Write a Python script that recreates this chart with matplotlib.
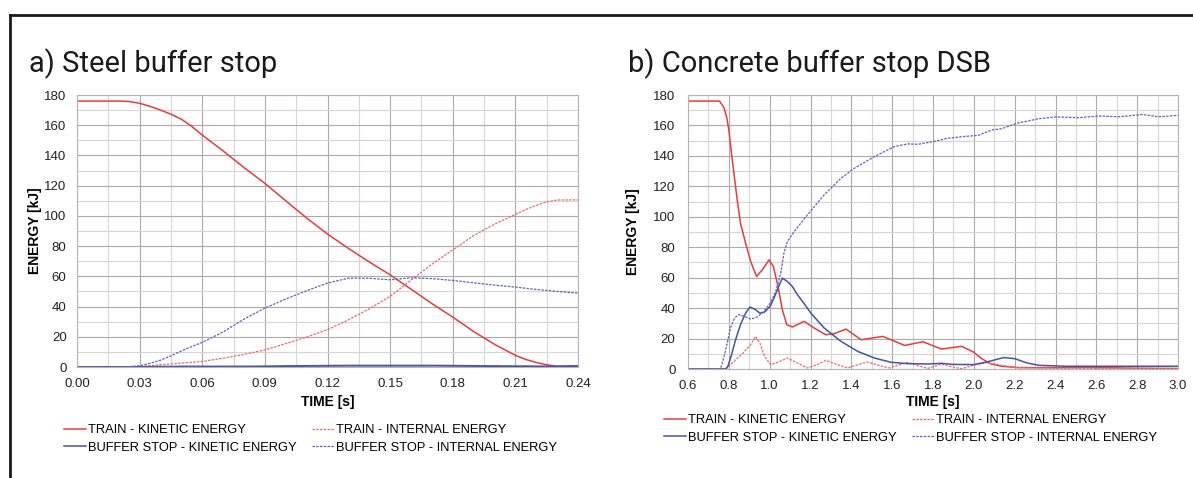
import matplotlib
matplotlib.use("Agg")
import matplotlib.pyplot as plt
from matplotlib.lines import Line2D
from matplotlib.ticker import MultipleLocator

# ---- a) steel buffer stop -------------------------------------------------
t_a = [0.0, 0.01, 0.02, 0.025, 0.03, 0.035, 0.04, 0.045, 0.05, 0.055, 0.06, 0.07, 0.08,
       0.09, 0.10, 0.11, 0.12, 0.13, 0.14, 0.15, 0.16, 0.17, 0.18, 0.19, 0.20, 0.21,
       0.215, 0.22, 0.225, 0.23, 0.24]
a_train_ke = [176, 176, 176, 175.7, 174.5, 172.5, 170, 167.3, 164, 159.2, 153.5, 143, 132,
              121.5, 110, 98.6, 88, 78.5, 69.5, 61, 51.5, 42, 33, 23.5, 15, 7.7,
              5, 3, 1.5, 0.5, 0.9]
a_train_ie = [0, 0, 0, 0.1, 0.4, 0.9, 1.5, 2.0, 2.6, 3.1, 3.7, 5.8, 8.3,
              11.3, 15.5, 19.8, 24.7, 31.2, 38.5, 46.7, 57.5, 68, 77.5, 87, 94.5, 101,
              104.2, 107, 109.3, 110.5, 110.6]
a_buffer_ke = [0, 0, 0, 0, 0, 0.1, 0.2, 0.2, 0.3, 0.3, 0.3, 0.3, 0.3,
               0.4, 0.6, 0.7, 0.8, 0.9, 0.9, 0.9, 0.9, 0.9, 0.8, 0.7, 0.6, 0.5,
               0.5, 0.4, 0.4, 0.4, 0.4]
a_buffer_ie = [0, 0, 0, 0.2, 0.9, 2.4, 4.5, 7.4, 10.6, 13.5, 16.3, 23.2, 31.7,
               39, 45, 50.5, 55.5, 58.8, 58.7, 57.7, 59, 58.5, 57.3, 55.7, 54.2, 52.9,
               52.1, 51.3, 50.7, 50, 48.9]

# ---- b) concrete buffer stop DSB ------------------------------------------
t_b_train_ke = [0.6, 0.754, 0.775, 0.789, 0.8, 0.811, 0.825, 0.841, 0.857, 0.882, 0.907,
                0.936, 0.964, 0.997, 1.018, 1.041, 1.062, 1.084, 1.111, 1.169, 1.218,
                1.275, 1.316, 1.374, 1.448, 1.554, 1.661, 1.751, 1.841, 1.94, 1.998,
                2.039, 2.08, 2.137, 2.22, 2.4, 2.6, 2.8, 3.0]
b_train_ke = [176, 176, 172, 165.8, 157, 144, 128.6, 111, 95.8, 82.7, 70.6,
              60.8, 65.2, 71.7, 67.4, 54.2, 38.9, 29.1, 27.6, 31.3, 26.9,
              22.5, 23.2, 26.2, 19.2, 21.4, 15.5, 17.9, 13.1, 14.9, 11.2,
              6.8, 3.5, 1.8, 0.9, 0.9, 1.0, 0.5, 0.3]

t_b_train_ie = [0.6, 0.784, 0.8, 0.833, 0.866, 0.907, 0.931, 0.952, 0.975, 1.005, 1.038,
                1.087, 1.136, 1.185, 1.231, 1.275, 1.333, 1.382, 1.431, 1.48, 1.533,
                1.587, 1.636, 1.677, 1.726, 1.775, 1.841, 1.89, 1.94, 2.0, 2.06,
                2.13, 2.2, 2.4, 2.7, 3.0]
b_train_ie = [0, 0, 1.7, 6.1, 10, 16, 21.4, 17, 8.3, 2.8, 4.4,
              7.2, 3.9, 0.7, 2.8, 5.7, 2.8, 0.7, 2.8, 4.6, 2.4,
              0.7, 2.8, 4.4, 2.2, 0.4, 3.3, 1.5, 0.2, 2.5, 4.2,
              2.5, 1.0, 0.5, 0.4, 0.3]

t_b_buffer_ke = [0.6, 0.784, 0.795, 0.811, 0.833, 0.857, 0.882, 0.903, 0.926, 0.952, 0.975,
                 1.002, 1.021, 1.041, 1.062, 1.087, 1.111, 1.136, 1.169, 1.202, 1.267,
                 1.349, 1.431, 1.513, 1.595, 1.677, 1.775, 1.841, 1.9, 2.0, 2.064,
                 2.145, 2.2, 2.26, 2.32, 2.45, 2.7, 3.0]
b_buffer_ke = [0, 0, 1.7, 8.3, 19.2, 29.1, 36.7, 40.7, 39.4, 36.7, 37.4,
               41.1, 46.6, 53.1, 59.7, 57.5, 54.2, 48.8, 42.9, 36.7, 26.9,
               18.2, 11.6, 7.2, 4.4, 3.5, 3.3, 3.7, 3.0, 2.9, 4.6,
               7.5, 6.8, 4.0, 2.4, 1.8, 1.8, 1.8]

t_b_buffer_ie = [0.6, 0.759, 0.775, 0.792, 0.808, 0.828, 0.849, 0.874, 0.907, 0.939, 0.972,
                 1.005, 1.03, 1.054, 1.07, 1.087, 1.12, 1.185, 1.267, 1.349, 1.415,
                 1.513, 1.611, 1.677, 1.726, 1.792, 1.841, 1.867, 1.94, 2.022, 2.088,
                 2.137, 2.211, 2.317, 2.399, 2.514, 2.612, 2.71, 2.825, 2.907, 3.0]
b_buffer_ie = [0, 0, 7.2, 17, 26.9, 33.5, 35.7, 34.6, 32.8, 34.1, 37.8,
               43.7, 51, 63, 76.1, 83.8, 90.3, 101.3, 114.4, 125.3, 131.9,
               139.5, 146.1, 147.9, 147.6, 149.2, 150.5, 151.5, 152.6, 153.5, 157,
               157.9, 161.4, 164.4, 165.6, 165.1, 166.2, 165.7, 167.2, 165.7, 166.6]

labels = ["TRAIN - KINETIC ENERGY", "TRAIN - INTERNAL ENERGY",
          "BUFFER STOP - KINETIC ENERGY", "BUFFER STOP - INTERNAL ENERGY"]

RED = "#ee3a3a"
RED_LIGHT = "#f26a6a"
BLUE = "#4453a8"
BLUE_LIGHT = "#5a66c4"
DOT = (0, (2, 1))
SANS = "Liberation Sans"

W, H = 1193, 478
fig = plt.figure(figsize=(W / 100, H / 100), dpi=100)


def px_axes(x0, x1, y0, y1):
    return fig.add_axes([x0 / W, 1 - y1 / H, (x1 - x0) / W, (y1 - y0) / H])


def style(ax, xmax_step, xminor, ypad):
    ax.set_ylim(0, 180)
    ax.yaxis.set_major_locator(MultipleLocator(20))
    ax.yaxis.set_minor_locator(MultipleLocator(10))
    ax.xaxis.set_major_locator(MultipleLocator(xmax_step))
    ax.xaxis.set_minor_locator(MultipleLocator(xminor))
    ax.grid(which="major", color="#ababab", lw=0.8)
    ax.grid(which="minor", color="#d6d6d6", lw=0.8)
    ax.set_axisbelow(True)
    for s in ax.spines.values():
        s.set_color("#b5b5b5")
        s.set_linewidth(0.8)
    ax.tick_params(which="both", length=0, labelsize=9.5, colors="#222222")
    ax.tick_params(axis="x", pad=8)
    ax.tick_params(axis="y", pad=ypad)
    for lab in ax.get_xticklabels() + ax.get_yticklabels():
        lab.set_family(SANS)
    ax.set_xlabel("TIME [s]", fontsize=10, fontweight="bold", family=SANS)
    ax.set_ylabel("ENERGY [kJ]", fontsize=10, fontweight="bold", family=SANS)
    ax.xaxis.label.set_va("center")
    ax.yaxis.label.set_va("center")


# left panel
ax1 = px_axes(77, 578, 95, 367)
ax1.plot(t_a, a_train_ke, color=RED, lw=1.1)
ax1.plot(t_a, a_train_ie, color=RED_LIGHT, lw=0.9, ls=DOT)
ax1.plot(t_a, a_buffer_ke, color=BLUE, lw=1.4)
ax1.plot(t_a, a_buffer_ie, color=BLUE_LIGHT, lw=0.9, ls=DOT)
ax1.set_xlim(0, 0.24)
style(ax1, 0.03, 0.015, 7.5)
ax1.xaxis.set_major_formatter(lambda v, p: f"{v:.2f}")
ax1.xaxis.set_label_coords(0.5, (367 - 402) / 272)
ax1.yaxis.set_label_coords((35 - 77) / 501, 0.5)

# right panel
ax2 = px_axes(688, 1178, 95, 369)
ax2.plot(t_b_train_ke, b_train_ke, color=RED, lw=1.1)
ax2.plot(t_b_train_ie, b_train_ie, color=RED_LIGHT, lw=0.9, ls=DOT)
ax2.plot(t_b_buffer_ke, b_buffer_ke, color=BLUE, lw=1.1)
ax2.plot(t_b_buffer_ie, b_buffer_ie, color=BLUE_LIGHT, lw=0.9, ls=DOT)
ax2.set_xlim(0.6, 3.0)
style(ax2, 0.2, 0.1, 9)
ax2.xaxis.set_major_formatter(lambda v, p: f"{v:.1f}")
ax2.xaxis.set_label_coords(0.5, (369 - 402) / 274)
ax2.yaxis.set_label_coords((633 - 688) / 490, 0.5)

# legends (two columns, entries in row order)
handles = [Line2D([], [], color=RED, lw=1.1),
           Line2D([], [], color=RED_LIGHT, lw=0.9, ls=DOT),
           Line2D([], [], color=BLUE, lw=1.1),
           Line2D([], [], color=BLUE_LIGHT, lw=0.9, ls=DOT)]
order = [0, 2, 1, 3]
for x0, y0 in [(64, 424), (664, 414)]:
    fig.legend([handles[i] for i in order], [labels[i] for i in order],
               loc="upper left", bbox_to_anchor=(x0 / W, 1 - y0 / H), ncol=2,
               frameon=False, borderpad=0, borderaxespad=0, handlelength=1.7,
               handletextpad=0.15, columnspacing=1.2, labelspacing=0.42,
               prop={"family": SANS, "size": 9.3})

# panel titles
fig.text(29 / W, 1 - 72 / H, "a) Steel buffer stop", family="Roboto", fontsize=21,
         color="#1a1a1a", va="baseline")
fig.text(628 / W, 1 - 72 / H, "b) Concrete buffer stop DSB", family="Roboto", fontsize=21,
         color="#1a1a1a", va="baseline")

# frame lines at top and left
fig.add_artist(Line2D([10 / W, 1], [1 - 15 / H, 1 - 15 / H], color="#1a1a1a", lw=2))
fig.add_artist(Line2D([10 / W, 10 / W], [0, 1 - 15 / H], color="#1a1a1a", lw=2))

fig.savefig("out.png", dpi=100)
